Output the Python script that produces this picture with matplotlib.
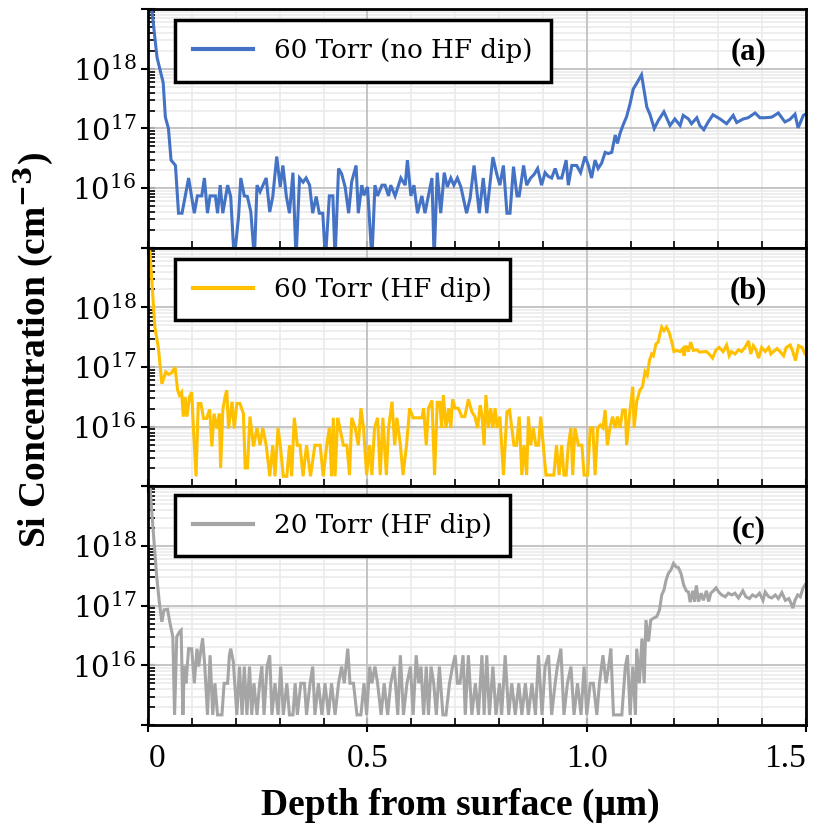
import numpy as np
import matplotlib.pyplot as plt
from matplotlib.ticker import FixedLocator, LogLocator, NullFormatter

plt.rcParams['mathtext.fontset'] = 'dejavuserif'

# ---------------- data (depth in um, log10 of Si concentration) ----------------
depth_a = [0.000, 0.008, 0.020, 0.034, 0.039, 0.046, 0.052, 0.062, 0.069, 0.077,
           0.092, 0.105, 0.112, 0.122, 0.128, 0.135, 0.141, 0.153, 0.158, 0.164,
           0.170, 0.181, 0.188, 0.196, 0.206, 0.211, 0.219, 0.226, 0.234, 0.242,
           0.248, 0.255, 0.269, 0.277, 0.284, 0.293, 0.301, 0.307, 0.315, 0.322,
           0.330, 0.337, 0.345, 0.353, 0.360, 0.368, 0.375, 0.383, 0.390, 0.398,
           0.404, 0.413, 0.421, 0.426, 0.434, 0.441, 0.449, 0.457, 0.464, 0.474,
           0.479, 0.487, 0.492, 0.500, 0.510, 0.517, 0.523, 0.533, 0.540, 0.548,
           0.553, 0.563, 0.576, 0.586, 0.591, 0.599, 0.606, 0.614, 0.624, 0.631,
           0.647, 0.652, 0.659, 0.667, 0.675, 0.682, 0.690, 0.697, 0.705, 0.713,
           0.726, 0.734, 0.743, 0.755, 0.764, 0.772, 0.786, 0.795, 0.802, 0.810,
           0.818, 0.825, 0.833, 0.841, 0.846, 0.856, 0.863, 0.872, 0.880, 0.888,
           0.897, 0.905, 0.912, 0.920, 0.928, 0.935, 0.943, 0.953, 0.958, 0.966,
           0.977, 0.986, 0.996, 1.004, 1.011, 1.019, 1.026, 1.034, 1.042, 1.049,
           1.057, 1.065, 1.070, 1.076, 1.083, 1.091, 1.099, 1.106, 1.115, 1.125,
           1.131, 1.137, 1.144, 1.154, 1.163, 1.176, 1.190, 1.201, 1.213, 1.220,
           1.232, 1.239, 1.251, 1.258, 1.267, 1.277, 1.288, 1.304, 1.319, 1.334,
           1.342, 1.357, 1.368, 1.384, 1.395, 1.406, 1.422, 1.437, 1.452, 1.463,
           1.475, 1.482, 1.494, 1.501]
log_a = [19.40, 19.00, 18.19, 17.77, 17.19, 17.00, 16.47, 16.38, 15.58, 15.58,
         16.17, 15.58, 15.87, 15.87, 16.17, 15.58, 15.87, 15.87, 15.58, 16.05,
         15.58, 16.05, 15.86, 14.80, 15.53, 16.17, 15.87, 15.86, 15.60, 14.80,
         16.05, 15.94, 16.17, 15.60, 15.86, 16.53, 16.02, 16.38, 15.86, 15.58,
         16.26, 14.80, 16.17, 16.10, 16.17, 16.05, 15.58, 15.86, 15.58, 15.58,
         14.80, 15.87, 15.87, 14.80, 16.33, 16.24, 16.02, 15.58, 16.11, 16.38,
         15.58, 16.05, 15.88, 16.02, 14.80, 16.05, 15.87, 16.05, 16.05, 15.87,
         16.05, 15.87, 16.17, 16.05, 16.47, 15.87, 16.05, 15.58, 15.87, 15.58,
         16.17, 14.80, 16.26, 15.58, 16.26, 16.02, 16.17, 16.05, 16.17, 16.02,
         15.58, 15.83, 16.38, 15.58, 16.17, 15.58, 16.52, 16.23, 16.05, 16.38,
         15.58, 15.58, 16.36, 15.87, 15.87, 16.38, 16.05, 16.17, 16.23, 16.33,
         16.05, 16.26, 16.20, 16.17, 16.33, 16.17, 16.17, 16.47, 16.05, 16.38,
         16.38, 16.26, 16.53, 16.38, 16.17, 16.47, 16.33, 16.42, 16.60, 16.58,
         16.60, 16.89, 16.75, 16.92, 17.06, 17.20, 17.42, 17.66, 17.77, 17.90,
         17.63, 17.36, 17.24, 17.00, 17.13, 17.28, 17.05, 17.16, 17.05, 17.22,
         17.16, 17.08, 17.18, 17.05, 16.98, 17.11, 17.23, 17.16, 17.08, 17.22,
         17.10, 17.16, 17.18, 17.26, 17.18, 17.18, 17.19, 17.26, 17.11, 17.15,
         17.24, 17.01, 17.22, 17.25]

depth_b = [0.000, 0.004, 0.015, 0.023, 0.031, 0.040, 0.046, 0.053, 0.061, 0.067,
           0.071, 0.076, 0.080, 0.084, 0.088, 0.094, 0.099, 0.103, 0.109, 0.114,
           0.120, 0.126, 0.133, 0.140, 0.145, 0.150, 0.157, 0.162, 0.165, 0.170,
           0.175, 0.179, 0.183, 0.191, 0.196, 0.202, 0.209, 0.217, 0.221, 0.226,
           0.232, 0.240, 0.248, 0.255, 0.261, 0.269, 0.277, 0.284, 0.289, 0.296,
           0.301, 0.308, 0.316, 0.322, 0.327, 0.333, 0.340, 0.346, 0.353, 0.361,
           0.370, 0.380, 0.392, 0.399, 0.407, 0.413, 0.418, 0.422, 0.426, 0.432,
           0.437, 0.445, 0.453, 0.459, 0.464, 0.472, 0.479, 0.485, 0.491, 0.498,
           0.505, 0.510, 0.516, 0.523, 0.529, 0.535, 0.543, 0.548, 0.556, 0.562,
           0.567, 0.575, 0.581, 0.589, 0.596, 0.604, 0.613, 0.624, 0.628, 0.634,
           0.639, 0.647, 0.653, 0.659, 0.665, 0.669, 0.673, 0.679, 0.685, 0.690,
           0.694, 0.700, 0.707, 0.715, 0.722, 0.730, 0.738, 0.745, 0.751, 0.757,
           0.761, 0.766, 0.770, 0.776, 0.781, 0.786, 0.791, 0.796, 0.802, 0.810,
           0.818, 0.824, 0.829, 0.834, 0.840, 0.846, 0.852, 0.857, 0.863, 0.867,
           0.872, 0.878, 0.884, 0.890, 0.895, 0.901, 0.907, 0.916, 0.925, 0.931,
           0.937, 0.943, 0.948, 0.953, 0.958, 0.964, 0.968, 0.973, 0.981, 0.989,
           0.994, 1.002, 1.008, 1.014, 1.019, 1.025, 1.031, 1.037, 1.042, 1.047,
           1.053, 1.059, 1.065, 1.070, 1.076, 1.082, 1.088, 1.091, 1.097, 1.105,
           1.108, 1.114, 1.121, 1.127, 1.133, 1.138, 1.143, 1.148, 1.152, 1.158,
           1.163, 1.167, 1.171, 1.176, 1.182, 1.188, 1.194, 1.199, 1.205, 1.213,
           1.219, 1.222, 1.226, 1.232, 1.237, 1.243, 1.251, 1.258, 1.266, 1.273,
           1.279, 1.287, 1.295, 1.302, 1.311, 1.319, 1.325, 1.330, 1.338, 1.346,
           1.353, 1.361, 1.369, 1.374, 1.380, 1.386, 1.392, 1.399, 1.407, 1.415,
           1.420, 1.426, 1.434, 1.441, 1.449, 1.455, 1.464, 1.470, 1.476, 1.483,
           1.491, 1.498]
log_b = [19.10, 18.92, 17.67, 17.33, 16.72, 16.92, 16.88, 16.90, 17.00, 16.61,
         16.53, 16.58, 16.17, 16.50, 16.17, 16.50, 16.58, 15.97, 15.17, 16.39,
         16.39, 16.14, 16.14, 16.29, 15.67, 16.22, 15.97, 16.22, 15.31, 16.28,
         16.50, 16.61, 15.97, 16.42, 15.97, 16.39, 16.39, 16.22, 15.31, 15.31,
         16.17, 15.67, 15.98, 15.69, 15.98, 15.69, 15.17, 15.69, 15.17, 15.98,
         15.69, 15.17, 15.17, 15.69, 15.17, 16.15, 15.69, 15.69, 15.17, 15.69,
         15.17, 15.69, 15.69, 15.17, 15.69, 15.98, 15.17, 16.15, 15.17, 16.15,
         15.98, 15.69, 15.69, 15.19, 16.15, 15.98, 15.69, 16.31, 15.98, 15.19,
         15.69, 15.19, 15.98, 16.15, 15.19, 16.15, 15.19, 15.98, 16.42, 15.69,
         16.15, 15.69, 15.19, 15.69, 16.31, 16.15, 16.15, 16.15, 16.31, 15.69,
         16.31, 16.44, 15.19, 16.41, 16.41, 15.98, 16.53, 15.98, 16.31, 15.98,
         16.46, 16.31, 16.31, 16.17, 16.17, 16.46, 16.25, 16.17, 15.98, 16.36,
         16.20, 15.69, 16.53, 15.98, 16.31, 15.98, 16.31, 15.98, 16.17, 15.19,
         16.25, 16.28, 15.98, 15.69, 15.69, 16.17, 15.19, 15.69, 15.19, 16.17,
         15.69, 15.98, 15.69, 15.69, 16.17, 15.69, 15.19, 15.19, 15.19, 15.69,
         15.19, 15.69, 15.19, 15.19, 15.69, 15.98, 15.19, 15.98, 15.69, 15.69,
         15.19, 15.19, 15.98, 15.98, 15.19, 15.98, 16.03, 15.98, 16.28, 15.69,
         15.98, 16.17, 15.98, 16.17, 15.98, 16.28, 16.28, 15.69, 16.17, 16.67,
         15.98, 16.42, 16.61, 16.67, 16.92, 16.86, 17.11, 17.22, 17.19, 17.39,
         17.42, 17.56, 17.67, 17.61, 17.67, 17.58, 17.42, 17.26, 17.28, 17.26,
         17.31, 17.19, 17.36, 17.26, 17.42, 17.28, 17.29, 17.25, 17.26, 17.26,
         17.22, 17.15, 17.29, 17.33, 17.26, 17.37, 17.19, 17.26, 17.22, 17.29,
         17.26, 17.33, 17.44, 17.22, 17.36, 17.29, 17.15, 17.33, 17.26, 17.33,
         17.22, 17.26, 17.31, 17.26, 17.19, 17.33, 17.37, 17.26, 17.11, 17.36,
         17.33, 17.22]

depth_c = [0.000, 0.004, 0.012, 0.019, 0.025, 0.031, 0.036, 0.044, 0.049, 0.056,
           0.060, 0.065, 0.071, 0.075, 0.079, 0.082, 0.086, 0.092, 0.099, 0.105,
           0.111, 0.115, 0.120, 0.124, 0.129, 0.135, 0.141, 0.147, 0.152, 0.158,
           0.168, 0.173, 0.181, 0.185, 0.188, 0.194, 0.202, 0.208, 0.214, 0.219,
           0.225, 0.231, 0.236, 0.241, 0.248, 0.254, 0.259, 0.264, 0.271, 0.277,
           0.282, 0.289, 0.296, 0.302, 0.308, 0.316, 0.322, 0.330, 0.335, 0.340,
           0.348, 0.356, 0.361, 0.369, 0.375, 0.380, 0.388, 0.396, 0.403, 0.411,
           0.418, 0.426, 0.434, 0.441, 0.447, 0.455, 0.460, 0.468, 0.476, 0.485,
           0.492, 0.498, 0.505, 0.510, 0.517, 0.523, 0.531, 0.538, 0.546, 0.553,
           0.561, 0.569, 0.575, 0.582, 0.590, 0.598, 0.604, 0.611, 0.617, 0.622,
           0.628, 0.634, 0.639, 0.645, 0.651, 0.657, 0.664, 0.672, 0.679, 0.687,
           0.694, 0.700, 0.705, 0.711, 0.718, 0.723, 0.730, 0.738, 0.746, 0.753,
           0.761, 0.766, 0.772, 0.778, 0.786, 0.793, 0.801, 0.806, 0.814, 0.822,
           0.829, 0.837, 0.845, 0.852, 0.860, 0.867, 0.875, 0.883, 0.890, 0.898,
           0.905, 0.913, 0.920, 0.928, 0.933, 0.941, 0.948, 0.956, 0.964, 0.971,
           0.979, 0.987, 0.994, 1.000, 1.008, 1.015, 1.023, 1.029, 1.037, 1.044,
           1.050, 1.055, 1.061, 1.070, 1.080, 1.088, 1.093, 1.099, 1.105, 1.111,
           1.114, 1.120, 1.126, 1.131, 1.135, 1.141, 1.146, 1.152, 1.160, 1.166,
           1.171, 1.176, 1.181, 1.186, 1.192, 1.198, 1.204, 1.209, 1.215, 1.221,
           1.227, 1.232, 1.236, 1.242, 1.246, 1.250, 1.255, 1.261, 1.266, 1.273,
           1.278, 1.283, 1.289, 1.295, 1.301, 1.308, 1.316, 1.323, 1.331, 1.338,
           1.346, 1.356, 1.363, 1.371, 1.378, 1.386, 1.394, 1.402, 1.407, 1.415,
           1.422, 1.430, 1.437, 1.445, 1.453, 1.461, 1.466, 1.470, 1.475, 1.481,
           1.487, 1.493, 1.498]
log_c = [19.10, 18.99, 18.18, 17.51, 17.07, 16.73, 16.93, 16.94, 16.73, 16.48,
         15.17, 16.48, 16.56, 16.59, 15.17, 15.98, 15.70, 16.28, 16.28, 15.70,
         16.28, 15.98, 16.26, 16.45, 15.98, 15.17, 16.17, 15.17, 15.70, 15.17,
         15.17, 15.70, 15.70, 16.17, 16.28, 16.06, 15.17, 15.98, 15.17, 15.98,
         15.17, 15.98, 15.17, 15.70, 15.17, 15.70, 15.98, 15.17, 15.98, 16.17,
         15.17, 15.70, 15.17, 15.98, 15.17, 15.70, 15.17, 15.17, 15.70, 15.17,
         15.70, 15.70, 15.17, 15.70, 15.98, 15.17, 15.70, 15.17, 15.70, 15.17,
         15.70, 15.17, 15.70, 15.98, 15.70, 16.28, 15.70, 15.70, 15.17, 15.17,
         15.70, 15.17, 15.98, 15.70, 15.98, 15.70, 15.17, 15.70, 15.17, 15.70,
         15.98, 15.17, 16.17, 15.17, 15.70, 15.98, 15.17, 16.17, 15.70, 15.98,
         15.17, 15.98, 15.17, 15.98, 15.70, 15.17, 15.98, 15.17, 15.17, 15.70,
         15.98, 16.17, 15.70, 15.70, 16.17, 15.17, 16.17, 15.17, 15.70, 15.17,
         16.17, 15.17, 16.17, 15.17, 15.98, 15.17, 15.70, 15.17, 16.17, 15.17,
         15.70, 15.17, 15.70, 15.17, 15.70, 15.17, 15.70, 15.17, 16.17, 15.17,
         15.98, 16.17, 15.17, 15.70, 15.98, 16.28, 15.17, 15.70, 15.98, 15.17,
         15.70, 15.17, 15.98, 15.17, 15.70, 15.70, 15.17, 15.70, 16.17, 15.70,
         15.98, 16.28, 15.17, 15.17, 15.17, 15.98, 16.17, 15.17, 15.98, 15.17,
         16.28, 15.70, 16.45, 15.70, 16.76, 16.40, 16.76, 16.79, 16.82, 16.93,
         17.18, 17.26, 17.43, 17.54, 17.60, 17.71, 17.65, 17.64, 17.54, 17.35,
         17.25, 17.23, 17.06, 17.25, 17.07, 17.34, 17.07, 17.21, 17.09, 17.25,
         17.07, 17.21, 17.25, 17.30, 17.23, 17.18, 17.15, 17.21, 17.18, 17.21,
         17.13, 17.25, 17.15, 17.12, 17.18, 17.15, 17.21, 17.09, 17.23, 17.15,
         17.13, 17.18, 17.12, 17.22, 17.09, 17.12, 17.04, 16.96, 17.09, 17.18,
         17.15, 17.29, 17.35]

labels = ["60 Torr (no HF dip)", "60 Torr (HF dip)", "20 Torr (HF dip)"]
tags = ["(a)", "(b)", "(c)"]
colors = ["#4472C4", "#FFC000", "#A5A5A5"]

x_ticks = [0, 0.5, 1.0, 1.5]
x_minor = [0.1, 0.2, 0.3, 0.4, 0.6, 0.7, 0.8, 0.9, 1.1, 1.2, 1.3, 1.4]
x_ticklabels = ["0", "0.5", "1.0", "1.5"]
y_ticks = [1e15, 1e16, 1e17, 1e18, 1e19]
y_ticklabels = ["", r"$10^{16}$", r"$10^{17}$", r"$10^{18}$", ""]

series = [(depth_a, log_a), (depth_b, log_b), (depth_c, log_c)]

# ---------------- figure ----------------
fig, axes = plt.subplots(3, 1, figsize=(8.16, 8.35), dpi=100, sharex=True)
fig.subplots_adjust(left=0.1817, right=0.9877, bottom=0.1317, top=0.989, hspace=0)

leg_tops = [0.954, 0.955, 0.966]

for i, ax in enumerate(axes):
    d, lg = series[i]
    ax.plot(d, 10 ** np.array(lg), color=colors[i], lw=2.2, label=labels[i],
            solid_joinstyle='miter', zorder=3)
    ax.set_yscale('log')
    ax.set_ylim(1e15, 1e19)
    ax.set_xlim(0, 1.5)

    ax.yaxis.set_major_locator(FixedLocator(y_ticks))
    ax.set_yticklabels(y_ticklabels)
    ax.yaxis.set_minor_locator(LogLocator(base=10, subs=range(2, 10), numticks=20))
    ax.yaxis.set_minor_formatter(NullFormatter())
    ax.set_xticks(x_ticks)
    ax.xaxis.set_minor_locator(FixedLocator(x_minor))

    # light minor grid, solid darker major grid on top of it
    ax.set_axisbelow(True)
    ax.grid(which='minor', color='#EBEBEB', lw=1.2)
    ax.grid(which='major', visible=False)
    for xv in x_ticks[1:-1]:
        ax.axvline(xv, color='#C0C0C0', lw=1.3, zorder=1)
    for yv in y_ticks[1:-1]:
        ax.axhline(yv, color='#C0C0C0', lw=1.3, zorder=1)

    ax.tick_params(which='major', direction='inout', length=10, width=1.5,
                   colors='black', labelsize=21)
    ax.tick_params(which='minor', direction='in', length=5, width=1.2)
    for lab in ax.get_yticklabels():
        lab.set_fontfamily('DejaVu Serif')
    for sp in ax.spines.values():
        sp.set_linewidth(2)
        sp.set_zorder(5)

    leg = ax.legend(loc='upper left', bbox_to_anchor=(0.0406, leg_tops[i]),
                    prop=dict(family='DejaVu Serif', size=18.8), frameon=True,
                    fancybox=False, edgecolor='black', framealpha=1,
                    borderpad=0.7, handlelength=2.3, handletextpad=0.8,
                    borderaxespad=0)
    leg.get_frame().set_linewidth(2.5)
    leg.set_zorder(6)
    for h in leg.get_lines():
        h.set_linewidth(3)

    ax.text(0.9126, 0.82, tags[i], transform=ax.transAxes, ha='center', va='center',
            fontfamily='Liberation Serif', fontweight='bold', fontsize=22, zorder=6)

ax_c = axes[2]
ax_c.set_xticklabels(x_ticklabels, fontfamily='Liberation Serif', fontsize=24)
xl = ax_c.get_xticklabels()
xl[0].set_ha('left')
xl[-1].set_ha('right')
ax_c.tick_params(axis='x', which='major', pad=8)

fig.text(0.042, 0.581, r"Si Concentration (cm$^{\mathbf{-3}}$)", rotation=90,
         ha='center', va='center', fontfamily='Liberation Serif', fontweight='bold',
         fontsize=27)
fig.text(0.564, 0.036, "Depth from surface (\u03bcm)", ha='center', va='center',
         fontfamily='Liberation Serif', fontweight='bold', fontsize=27)

fig.savefig('out.png', dpi=100)
